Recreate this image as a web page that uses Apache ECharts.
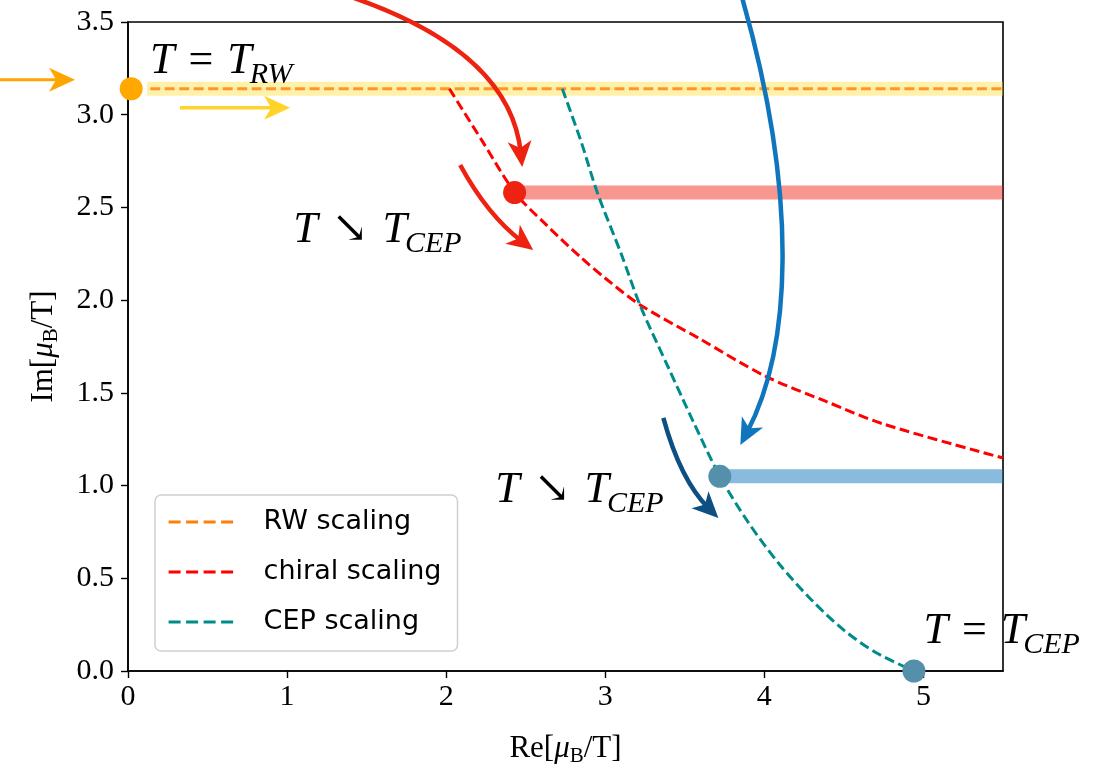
<!DOCTYPE html>
<html><head><meta charset="utf-8">
<script src="https://cdn.jsdelivr.net/npm/echarts@6/dist/echarts.min.js"></script>
<style>html,body{margin:0;padding:0;background:#fff}#c{width:1115px;height:764px}</style>
</head><body><div id="c"></div>
<script>
// ---------- data (Re, Im) ----------
const xTicks = [0, 1, 2, 3, 4, 5];
const yTicks = [0, 0.5, 1, 1.5, 2, 2.5, 3, 3.5];
const rwLine = [[0.14, 3.14], [5.5, 3.14]];
const chiralLine = [[2.02, 3.14], [2.226, 2.859], [2.434, 2.578], [2.623, 2.411], [2.843, 2.233], [3.006, 2.114], [3.22, 1.974], [3.597, 1.79], [4.006, 1.59], [4.384, 1.455], [4.748, 1.332], [5.5, 1.149]];
const cepLine = [[2.73, 3.14], [2.85, 2.85], [2.95, 2.58], [3.1, 2.25], [3.22, 1.97], [3.4, 1.63], [3.55, 1.35], [3.72, 1.05], [3.9, 0.80], [4.1, 0.57], [4.3, 0.38], [4.5, 0.22], [4.7, 0.10], [4.94, 0.0]];
const rwBand = [[0.12, 3.14], [5.5, 3.14]];
const chiralBand = [[2.43, 2.58], [5.5, 2.58]];
const cepBand = [[3.72, 1.05], [5.5, 1.05]];
const rwPoint = [[0.02, 3.14]];
const chiralPoint = [[2.43, 2.58]];
const cepPoints = [[3.72, 1.05], [4.94, 0.0]];
const legendNames = ['RW scaling', 'chiral scaling', 'CEP scaling'];

// annotation arrows (data units): straight [start,end], quadratic [p0,c,p1], cubic [p0,c1,c2,p1]
const arrowOrange = [[-0.81, 3.188], [-0.333, 3.188]];
const arrowYellow = [[0.327, 3.037], [1.019, 3.037]];
const arrowRedTop = [[1.365, 3.646], [2.403, 3.350], [2.478, 2.718]];
const arrowRedLow = [[2.088, 2.729], [2.258, 2.460], [2.547, 2.270]];
const arrowBlue = [[3.855, 3.646], [4.226, 2.540], [4.164, 1.731], [3.849, 1.219]];
const arrowNavy = [[3.365, 1.365], [3.472, 1.030], [3.711, 0.825]];

// annotation labels: tokens [text, kind] and baseline-left anchor (data units)
const labelRW = [['T', 'm'], ['=', 'o'], ['T', 'm'], ['RW', 's']];   const labelRWAt = [0.138, 3.225];
const labelCep1 = [['T', 'm'], ['\u2198', 'o'], ['T', 'm'], ['CEP', 's']]; const labelCep1At = [1.038, 2.314];
const labelCep2 = [['T', 'm'], ['\u2198', 'o'], ['T', 'm'], ['CEP', 's']]; const labelCep2At = [2.308, 0.912];
const labelCep3 = [['T', 'm'], ['=', 'o'], ['T', 'm'], ['CEP', 's']]; const labelCep3At = [5.0, 0.151];

// ---------- chart ----------
const serif = "'Liberation Serif','DejaVu Serif',serif";
const sans = "'DejaVu Sans',sans-serif";
const chart = echarts.init(document.getElementById('c'), null, {renderer: 'canvas'});

const nameRich = {
  r: {fontFamily: serif, fontSize: 31, color: '#000', lineHeight: 36},
  i: {fontFamily: serif, fontSize: 31, fontStyle: 'italic', color: '#000', lineHeight: 36},
  b: {fontFamily: serif, fontSize: 21, color: '#000', lineHeight: 14, verticalAlign: 'bottom'}
};

function dashed(name, data, color, opacity) {
  return {name, type: 'line', data, symbol: 'none', smooth: 0.3, z: 3,
    lineStyle: {color, width: 3, type: [10, 4.5], opacity: opacity || 1}, itemStyle: {color}};
}
function band(data, color) {
  return {type: 'line', data, symbol: 'none', z: 2, silent: true, clip: false,
    lineStyle: {color, width: 14, cap: 'butt'}};
}
function dots(data, color) {
  return {type: 'scatter', data, symbolSize: 23, z: 5, clip: false, itemStyle: {color, opacity: 1}};
}

chart.setOption({
  animation: false,
  backgroundColor: '#fff',
  grid: {left: 128, right: 112, top: 22, bottom: 93, show: true, borderColor: '#000', borderWidth: 1.6,
    containLabel: false, outerBoundsMode: 'none'},
  xAxis: {
    type: 'value', min: 0, max: 5.5, interval: 1,
    axisLine: {show: true, onZero: false, lineStyle: {color: '#000', width: 1.6}},
    axisTick: {show: true, length: 7, customValues: xTicks, lineStyle: {color: '#000', width: 1.4}},
    axisLabel: {customValues: xTicks, color: '#000', fontFamily: serif, fontSize: 30, margin: 11,
      formatter: v => (Number.isInteger(v) ? String(v) : '')},
    splitLine: {show: false},
    name: '{r|Re[}{i|\u03bc}{b|B}{r|/T]}', nameLocation: 'middle', nameGap: 60,
    nameTextStyle: {rich: nameRich}
  },
  yAxis: {
    type: 'value', min: 0, max: 3.5, interval: 0.5,
    axisLine: {show: true, onZero: false, lineStyle: {color: '#000', width: 1.6}},
    axisTick: {show: true, length: 7, customValues: yTicks, lineStyle: {color: '#000', width: 1.4}},
    axisLabel: {customValues: yTicks, color: '#000', fontFamily: serif, fontSize: 30, margin: 14,
      formatter: v => v.toFixed(1)},
    splitLine: {show: false},
    name: '{r|Im[}{i|\u03bc}{b|B}{r|/T]}', nameLocation: 'middle', nameGap: 66,
    nameTextStyle: {rich: nameRich}
  },
  legend: {
    data: legendNames, orient: 'vertical', left: 155, top: 495,
    padding: [12, 16, 14, 12], itemGap: 20, itemWidth: 68, itemHeight: 30,
    itemStyle: {opacity: 0},
    lineStyle: {width: 3.2, opacity: 1, type: [12, 5.5]},
    backgroundColor: '#fff', borderColor: '#d0d0d0', borderWidth: 1.5, borderRadius: 6,
    textStyle: {fontFamily: sans, fontSize: 27, color: '#000', padding: [0, 0, 0, 22], lineHeight: 30}
  },
  series: [
    band(rwBand, 'rgba(255,221,40,0.40)'),
    band(chiralBand, 'rgba(238,34,17,0.47)'),
    band(cepBand, 'rgba(17,119,187,0.50)'),
    dashed('RW scaling', rwLine, '#ff7f0e', 0.8),
    dashed('chiral scaling', chiralLine, '#ff0000'),
    dashed('CEP scaling', cepLine, '#008b8b'),
    dots(rwPoint, '#ffa800'),
    dots(chiralPoint, '#ee2211'),
    dots(cepPoints, '#5590aa')
  ]
});

// ---------- annotations ----------
function px(p) { return chart.convertToPixel({gridIndex: 0}, p); }
function head(tip, dir, color) {
  const L = 26, W = 12, N = 7;
  const len = Math.hypot(dir[0], dir[1]);
  const ux = dir[0] / len, uy = dir[1] / len, nx = -uy, ny = ux;
  const bx = tip[0] - ux * L, by = tip[1] - uy * L;
  return {type: 'polygon', z: 20, silent: true,
    shape: {points: [tip, [bx + nx * W, by + ny * W], [tip[0] - ux * (L - N), tip[1] - uy * (L - N)], [bx - nx * W, by - ny * W]]},
    style: {fill: color}};
}
function arrow(pts, color, lw) {
  const p = pts.map(px);
  const n = p.length;
  const tip = p[n - 1], prev = p[n - 2];
  const dir = [tip[0] - prev[0], tip[1] - prev[1]];
  const len = Math.hypot(dir[0], dir[1]);
  const end = [tip[0] - dir[0] / len * 14, tip[1] - dir[1] / len * 14];
  let line;
  if (n === 2) {
    line = {type: 'line', shape: {x1: p[0][0], y1: p[0][1], x2: end[0], y2: end[1]}};
  } else if (n === 3) {
    line = {type: 'bezierCurve', shape: {x1: p[0][0], y1: p[0][1], cpx1: p[1][0], cpy1: p[1][1], x2: end[0], y2: end[1]}};
  } else {
    line = {type: 'bezierCurve', shape: {x1: p[0][0], y1: p[0][1], cpx1: p[1][0], cpy1: p[1][1], cpx2: p[2][0], cpy2: p[2][1], x2: end[0], y2: end[1]}};
  }
  line.z = 19; line.silent = true;
  line.style = {stroke: color, lineWidth: lw, fill: null};
  return [line, head(tip, dir, color)];
}
const tokenStyle = {
  m: {size: 44, italic: true, before: 0, after: 0, dy: -11.5},
  o: {size: 44, italic: false, before: 14, after: 14, dy: -11.5},
  s: {size: 30, italic: true, before: -2, after: 0, dy: 2.5}
};
const mctx = document.createElement('canvas').getContext('2d');
function label(tokens, at) {
  const p = px(at);
  let x = p[0];
  const out = [];
  tokens.forEach(([t, kind]) => {
    const st = tokenStyle[kind];
    const fstyle = st.italic ? 'italic' : 'normal';
    mctx.font = fstyle + ' ' + st.size + 'px ' + serif;
    x += st.before;
    out.push({type: 'text', x: x, y: p[1] + st.dy, z: 25, silent: true,
      style: {text: t, fontFamily: serif, fontStyle: fstyle, fontSize: st.size, fill: '#000', align: 'left', verticalAlign: 'middle'}});
    x += mctx.measureText(t).width + st.after;
  });
  return out;
}

const els = [].concat(
  arrow(arrowOrange, '#ffa500', 3),
  arrow(arrowYellow, '#ffd42a', 3.5),
  arrow(arrowRedTop, '#ee2211', 4.5),
  arrow(arrowRedLow, '#ee2211', 4.5),
  arrow(arrowBlue, '#0f75bc', 4.5),
  arrow(arrowNavy, '#0e4f82', 4.5),
  label(labelRW, labelRWAt), label(labelCep1, labelCep1At), label(labelCep2, labelCep2At), label(labelCep3, labelCep3At)
);
chart.setOption({graphic: {elements: els}});
</script></body></html>
